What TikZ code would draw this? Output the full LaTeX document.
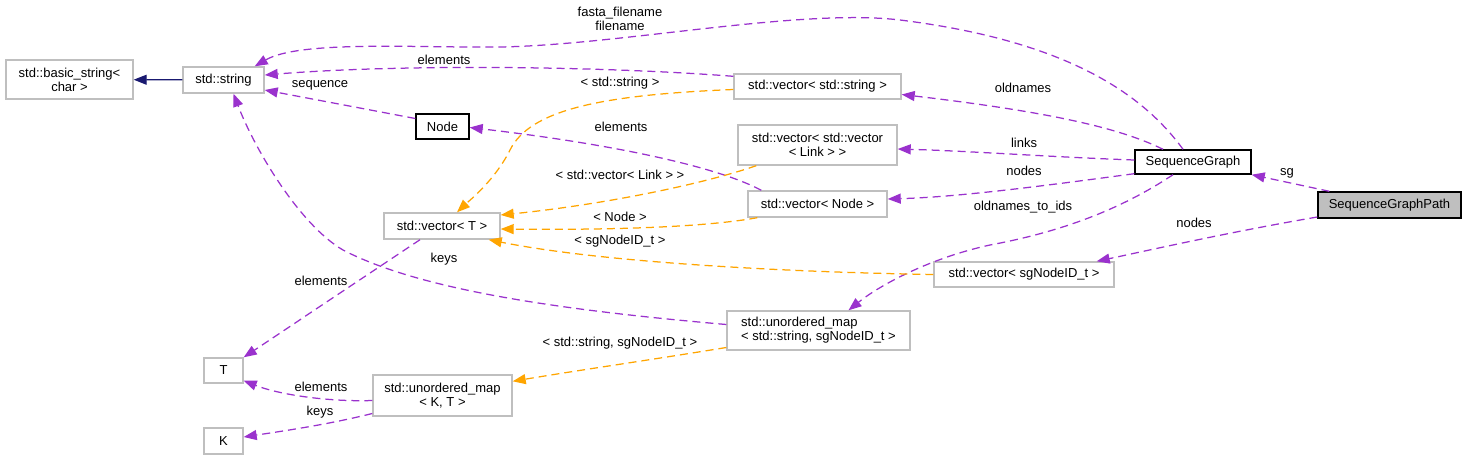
\documentclass[tikz,border=0pt]{standalone}
\usepackage{fontspec}
\setmainfont{Liberation Sans}
\usepackage{tikz}
\usetikzlibrary{arrows.meta, positioning, calc}
\definecolor{EdgePurple}{HTML}{9A32CD}
\definecolor{EdgeOrange}{HTML}{FFA500}
\definecolor{EdgeNavy}{HTML}{191970}
\definecolor{BoxGray}{HTML}{BFBFBF}

\begin{document}
\begin{tikzpicture}[x=1pt, y=-1pt, >={Triangle[length=13pt, width=10pt]},
    every node/.style={font=\fontsize{13}{14}\selectfont},
    cls/.style={draw=BoxGray, line width=1.4pt, fill=white, inner sep=0pt, align=center, minimum height=25pt},
    main/.style={cls, draw=black},
    lbl/.style={inner sep=0pt, align=center},
    use/.style={->, EdgePurple, line width=1.25pt, dash pattern=on 8pt off 5pt},
    tmpl/.style={use, EdgeOrange},
    inh/.style={->, EdgeNavy, line width=1.25pt}]
        \useasboundingbox (0,0) rectangle (1467,460);

        % Draw classes
        \node[cls, minimum width=127pt, minimum height=39pt] (basic) at (69.5,79.5) {std::basic\_string<\\char >};
        \node[cls, minimum width=81pt, minimum height=26pt] (string) at (223.5,80) {std::string};
        \node[main, minimum width=53pt] (Node) at (442.5,126.5) {Node};
        \node[cls, minimum width=167pt] (vecstr) at (817.5,86.5) {std::vector< std::string >};
        \node[cls, minimum width=159pt, minimum height=40pt] (vecvec) at (817.5,145) {std::vector< std::vector\\< Link > >};
        \node[cls, minimum width=139pt, minimum height=26pt] (vecnode) at (817.5,204) {std::vector< Node >};
        \node[cls, minimum width=116pt, minimum height=26pt] (vecT) at (442,226) {std::vector< T >};
        \node[main, minimum width=116pt, minimum height=24pt] (sg) at (1193,162) {SequenceGraph};
        \node[main, fill=BoxGray, minimum width=143pt, minimum height=26pt] (sgp) at (1389.5,205) {SequenceGraphPath};
        \node[cls, minimum width=180pt] (vecid) at (1024,274.5) {std::vector< sgNodeID\_t >};
        \node[cls, minimum width=183pt, minimum height=39pt, align=left] (umap) at (818.5,330.5) {std::unordered\_map\\< std::string, sgNodeID\_t >};
        \node[cls, minimum width=39pt] (T) at (223.5,370.5) {T};
        \node[cls, minimum width=139pt, minimum height=41pt] (umapKT) at (442.5,395.5) {std::unordered\_map\\< K, T >};
        \node[cls, minimum width=39pt, minimum height=26pt] (K) at (223.5,441) {K};

        % Inheritance
        \draw[inh] (string) -- (basic);

        % Member edges
        \draw[use] ($(sg.north)+(-10,0)$) .. controls (1140,90) and (1060,40) .. (900,20)
            .. controls (800,8) and (620,45) .. (500,47)
            .. controls (420,48) and (300,40) .. ($(string.north east)+(-10,0)$);
        \draw[use] ($(vecstr.north west)+(0,3)$) .. controls (600,66) and (400,64) .. ($(string.east)+(0,-5)$);
        \draw[use] ($(Node.west)+(0,-8)$) -- ($(string.east)+(0,10)$);
        \draw[use] ($(umap.west)+(0,-6)$) .. controls (560,310) and (420,290) .. (343,250)
            .. controls (300,225) and (255,150) .. ($(string.south)+(10,0)$);
        \draw[use] ($(vecnode.north west)+(14,0)$) .. controls (720,168) and (620,145) .. ($(Node.east)+(0,1)$);
        \draw[use] ($(vecT.south)+(-22,0)$) -- (T.north east);
        \draw[use] ($(sg.north)+(-30,0)$) .. controls (1120,128) and (1050,112) .. ($(vecstr.east)+(0,8)$);
        \draw[use] ($(sg.west)+(0,-2)$) .. controls (1050,157) and (970,151) .. ($(vecvec.east)+(0,4)$);
        \draw[use] ($(sg.south west)+(0,-1)$) .. controls (1050,185) and (960,197) .. ($(vecnode.east)+(0,-5)$);
        \draw[use] ($(sg.south)+(-20,0)$) .. controls (1120,210) and (1060,232) .. (990,245)
            .. controls (930,258) and (880,285) .. ($(umap.north)+(30,0)$);
        \draw[use] ($(sgp.north west)+(12,0)$) -- (sg.south east);
        \draw[use] ($(sgp.west)+(0,12)$) .. controls (1230,232) and (1150,250) .. ($(vecid.north east)+(-18,0)$);
        \draw[use] ($(umapKT.west)+(0,5)$) .. controls (330,402) and (280,395) .. ($(T.south east)+(0,-3)$);
        \draw[use] ($(umapKT.west)+(0,18)$) .. controls (330,424) and (290,430) .. ($(K.east)+(0,-4)$);

        % Template edges
        \draw[tmpl] ($(vecstr.west)+(0,3)$) .. controls (600,95) and (530,110) .. (510,150)
            .. controls (495,180) and (470,200) .. ($(vecT.north)+(15,0)$);
        \draw[tmpl] ($(vecvec.south west)+(19,0)$) .. controls (700,185) and (600,205) .. ($(vecT.east)+(0,-11)$);
        \draw[tmpl] ($(vecnode.south west)+(10,0)$) .. controls (700,228) and (600,230) .. ($(vecT.east)+(0,3)$);
        \draw[tmpl] (vecid.west) .. controls (780,272) and (600,262) .. ($(vecT.south east)+(-12,0)$);
        \draw[tmpl] ($(umap.west)+(0,17)$) .. controls (650,360) and (580,370) .. ($(umapKT.north east)+(0,7)$);

        % Edge labels
        \node[lbl] (lfasta) at (620,19) {fasta\_filename\\filename};
        \node[lbl] (lelemstr) at (444,60) {elements};
        \node[lbl] (lseq) at (320,85) {sequence};
        \node[lbl] (lstr) at (620,83) {< std::string >};
        \node[lbl] (lelemnode) at (621,127) {elements};
        \node[lbl] (lveclink) at (620,175) {< std::vector< Link > >};
        \node[lbl] (lnode) at (620,217) {< Node >};
        \node[lbl] (lid) at (620,241) {< sgNodeID\_t >};
        \node[lbl] (lkeysstr) at (444,259) {keys};
        \node[lbl] (lelemT) at (321,281) {elements};
        \node[lbl] (loldnames) at (1023,88) {oldnames};
        \node[lbl] (llinks) at (1024,143) {links};
        \node[lbl] (lnodessg) at (1024,171) {nodes};
        \node[lbl] (loldids) at (1023,207) {oldnames\_to\_ids};
        \node[lbl] (lsg) at (1287,173) {sg};
        \node[lbl] (lnodespath) at (1194,223) {nodes};
        \node[lbl] (lstrid) at (620,343) {< std::string, sgNodeID\_t >};
        \node[lbl] (lelemKT) at (321,387) {elements};
        \node[lbl] (lkeysKT) at (320,412) {keys};
\end{tikzpicture}
\end{document}
